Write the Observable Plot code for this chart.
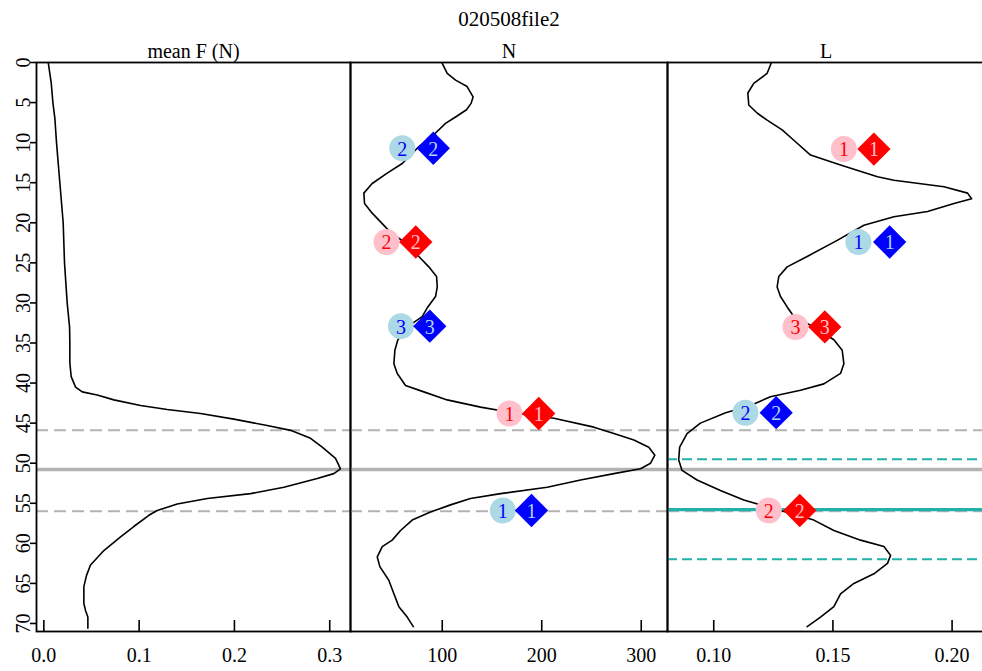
<!DOCTYPE html>
<html>
<head>
<meta charset="utf-8">
<script src="https://cdn.jsdelivr.net/npm/d3@7"></script>
<script src="https://cdn.jsdelivr.net/npm/@observablehq/plot@0.6"></script>
<style>
  body { margin: 0; background: #fff; overflow: hidden; }
  #wrap { position: relative; width: 982px; height: 671px; font-family: "Liberation Serif", "Times New Roman", serif; }
  #title { position: absolute; left: 36px; width: 946px; top: 7px; text-align: center; font-size: 21px; line-height: 24px; z-index: 10; color: #000; }
  .panel { position: absolute; top: 0; }
  .panel text { font-family: "Liberation Serif", "Times New Roman", serif !important; }
</style>
</head>
<body>
<div id="wrap"><div id="title">020508file2</div></div>
<script>
// ---------- data ----------
const chartTitle = "020508file2";
const panelTitles = ["mean F (N)", "N", "L"];
const depthTicks = [0, 5, 10, 15, 20, 25, 30, 35, 40, 45, 50, 55, 60, 65, 70];
const fTicks = [0.0, 0.1, 0.2, 0.3];
const nTicks = [100, 200, 300];
const lTicks = [0.10, 0.15, 0.20];

// mean F (N) profile
const fDepth = [0, 2.5, 5, 7, 10, 15, 20, 25, 30, 33, 35, 37.5, 39.2, 40.5, 41.1, 41.5, 42.1, 42.8, 43.3, 43.8, 44.5, 45.3, 45.9, 46.9, 48.0, 49.4, 50.7, 51.3, 51.9, 53.0, 53.8, 54.4, 55.1, 55.9, 56.5, 57.9, 59.2, 60.9, 62.7, 64.0, 65.4, 67.5, 68.4, 69.2, 70.6];
const fValue = [0.0046, 0.0077, 0.0095, 0.0116, 0.0133, 0.0168, 0.0203, 0.0217, 0.0245, 0.0270, 0.0273, 0.0273, 0.0287, 0.0333, 0.0403, 0.0560, 0.0735, 0.1015, 0.1295, 0.1644, 0.1994, 0.2344, 0.2589, 0.2799, 0.2921, 0.3061, 0.3113, 0.3043, 0.2869, 0.2519, 0.2169, 0.1715, 0.1400, 0.1190, 0.1102, 0.0944, 0.0805, 0.0630, 0.0490, 0.0448, 0.0420, 0.0420, 0.0438, 0.0462, 0.0462];

// N profile
const nDepth = [0.1, 1.35, 2.2, 3.0, 4.3, 5.1, 5.9, 6.8, 7.6, 8.8, 10.5, 12.6, 13.8, 15.1, 16.3, 17.6, 18.8, 20.1, 21.1, 22.4, 24.2, 25.5, 26.7, 28.0, 29.2, 30.5, 31.7, 32.9, 34.6, 35.9, 37.6, 38.8, 40.3, 41.1, 42.1, 43.0, 43.8, 44.4, 45.5, 46.3, 47.1, 48.0, 49.0, 50.0, 50.7, 51.3, 52.1, 53.0, 53.8, 54.4, 55.2, 56.1, 57.1, 58.4, 59.6, 60.4, 61.7, 62.9, 64.6, 66.3, 67.9, 69.2, 70.4];
const nValue = [100, 105, 113.4, 125, 131, 129, 124.4, 113.4, 103.3, 93.3, 76.5, 59.8, 44.7, 29.6, 21.2, 21.9, 29.6, 39.7, 47.3, 61.5, 76.5, 86.5, 94.3, 95, 93.3, 85.5, 79.9, 66, 55.4, 52.4, 51.4, 54.8, 63.1, 81.5, 105, 138.5, 175, 212.2, 252.4, 272.5, 292.6, 307.6, 313.7, 309.4, 299.3, 272.5, 239, 205.5, 158.6, 128.4, 108.3, 88.2, 69.8, 58.1, 49.7, 39.7, 34.7, 37.3, 46.3, 51.4, 56.4, 64.8, 70.9];

// L profile
const lDepth = [0.1, 1.35, 2.6, 3.8, 5.3, 6.3, 7.2, 8.4, 9.7, 11.55, 12.8, 14.25, 14.7, 15.5, 16.3, 17.0, 17.6, 18.6, 19.25, 20.3, 22.2, 24.2, 25.5, 26.7, 28.0, 29.2, 30.5, 31.7, 33.0, 34.6, 35.9, 37.6, 38.8, 40.1, 40.9, 41.7, 42.8, 43.7, 45.0, 46.3, 48.0, 49.6, 50.9, 52.1, 53.4, 54.6, 55.9, 57.1, 58.4, 59.6, 60.4, 61.5, 62.5, 63.8, 65.0, 66.3, 67.9, 69.2, 70.4];
const lValue = [0.1241, 0.1224, 0.1168, 0.1143, 0.1147, 0.1182, 0.1224, 0.1287, 0.1336, 0.1406, 0.1532, 0.1687, 0.1756, 0.1966, 0.2065, 0.2082, 0.2008, 0.1897, 0.1756, 0.1630, 0.1518, 0.1392, 0.1308, 0.1273, 0.1266, 0.1280, 0.1308, 0.1336, 0.1420, 0.1504, 0.1539, 0.1546, 0.1532, 0.1462, 0.1364, 0.1238, 0.1154, 0.1050, 0.0944, 0.0888, 0.0857, 0.0853, 0.0867, 0.0930, 0.1028, 0.1126, 0.1280, 0.1420, 0.1504, 0.1616, 0.1714, 0.1742, 0.1729, 0.1672, 0.1588, 0.1532, 0.1504, 0.1448, 0.1392];

// reference depths
const grayDashed = [45.9, 56.0];
const graySolid = [50.8];
const tealDashed = [49.5, 62.0];
const tealSolid = [55.8];

// markers in N panel
const nMarkDepth = [10.7, 22.4, 32.9, 43.8, 55.9];
const nMarkLabel = ["2", "2", "3", "1", "1"];
const nMarkGroup = ["blue", "red", "blue", "red", "blue"];
const nCircleX = [59.8, 44.0, 58.5, 167.6, 160.9];
const nDiamondX = [91.0, 73.4, 87.5, 197.0, 189.7];

// markers in L panel
const lMarkDepth = [10.8, 22.4, 33.0, 43.7, 55.9];
const lMarkLabel = ["1", "1", "3", "2", "2"];
const lMarkGroup = ["red", "blue", "red", "blue", "red"];
const lCircleX = [0.1546, 0.1607, 0.1343, 0.1133, 0.1231];
const lDiamondX = [0.1672, 0.1738, 0.1466, 0.1262, 0.1361];

// ---------- build ----------
const light = {blue: "lightblue", red: "pink"};
const dark = {blue: "blue", red: "red"};
const H = 671, MT = 62, MB = 40;
const FONT = "'Liberation Serif', 'Times New Roman', serif";

const profile = (ds, vs) => ds.map((d, i) => ({depth: d, v: vs[i]}));
const markers = (ds, labels, groups, cx, dx) => ds.map((d, i) => ({depth: d, label: labels[i], grp: groups[i], cx: cx[i], dx: dx[i]}));

function panel({left, width, marginLeft, xDomain, xTicks, fmt, title, line, marks, teal, yAxis}) {
  const innerH = H - MT - MB;
  const innerW = width - marginLeft;
  const m = [];
  m.push(Plot.ruleY(grayDashed, {stroke: "#b3b3b3", strokeWidth: 2, strokeDasharray: "12,6"}));
  m.push(Plot.ruleY(graySolid, {stroke: "#b3b3b3", strokeWidth: 3.5}));
  if (teal) {
    m.push(Plot.ruleY(tealDashed, {stroke: "#20b2aa", strokeWidth: 2, strokeDasharray: "10,5"}));
    m.push(Plot.ruleY(tealSolid, {stroke: "#20b2aa", strokeWidth: 3.2}));
  }
  m.push(Plot.line(line, {x: "v", y: "depth", stroke: "black", strokeWidth: 1.6}));
  if (marks) {
    m.push(Plot.dot(marks, {x: "cx", y: "depth", r: 13, fill: d => light[d.grp], stroke: null}));
    m.push(Plot.dot(marks, {x: "dx", y: "depth", r: 15, symbol: "diamond2", fill: d => dark[d.grp], stroke: null}));
    m.push(Plot.text(marks, {x: "cx", y: "depth", text: "label", fill: d => dark[d.grp], fontSize: 20, fontFamily: FONT, dy: 1}));
    m.push(Plot.text(marks, {x: "dx", y: "depth", text: "label", fill: d => light[d.grp], fontSize: 20, fontFamily: FONT, dy: 1}));
  }
  m.push(Plot.frame({stroke: "black", strokeWidth: 1.8}));
  // inward x ticks
  m.push(Plot.tickX(xTicks, {x: d => d, stroke: "black", strokeWidth: 1.6, insetTop: innerH - 11}));
  // x tick labels
  m.push(Plot.text(xTicks, {x: d => d, text: fmt, frameAnchor: "bottom", lineAnchor: "top", dy: 16, fontSize: 20, fontFamily: FONT, fill: "black"}));
  if (yAxis) {
    // outward y ticks
    m.push(Plot.tickY(depthTicks, {y: d => d, stroke: "black", strokeWidth: 1.6, insetLeft: -6, insetRight: innerW}));
    // rotated y tick labels
    m.push(Plot.text(depthTicks, {y: d => d, text: d => String(d), frameAnchor: "left", rotate: -90, textAnchor: "middle", lineAnchor: "bottom", dx: -7, fontSize: 20, fontFamily: FONT, fill: "black"}));
  }
  m.push(Plot.text([title], {text: d => d, frameAnchor: "top", lineAnchor: "bottom", dy: -5, fontSize: 20, fontFamily: FONT, fill: "black"}));
  const p = Plot.plot({
    width, height: H,
    marginTop: MT, marginBottom: MB, marginLeft, marginRight: 0,
    x: {domain: xDomain, axis: null, label: null},
    y: {domain: [0, 71], reverse: true, axis: null, label: null},
    color: {type: "identity"},
    style: {fontFamily: FONT, fontSize: "20px", color: "black", background: "transparent", overflow: "visible"},
    marks: m
  });
  p.classList.add("panel");
  p.style.left = left + "px";
  return p;
}

const wrap = document.getElementById("wrap");
document.getElementById("title").textContent = chartTitle;

wrap.appendChild(panel({
  left: 0, width: 350, marginLeft: 36, xDomain: [-0.0077, 0.3218], xTicks: fTicks, fmt: d3.format(".1f"),
  title: panelTitles[0], line: profile(fDepth, fValue), yAxis: true
}));
wrap.appendChild(panel({
  left: 350, width: 317, marginLeft: 0, xDomain: [7.8, 326.4], xTicks: nTicks, fmt: d3.format("d"),
  title: panelTitles[1], line: profile(nDepth, nValue),
  marks: markers(nMarkDepth, nMarkLabel, nMarkGroup, nCircleX, nDiamondX)
}));
wrap.appendChild(panel({
  left: 667, width: 317, marginLeft: 0, xDomain: [0.0806, 0.2136], xTicks: lTicks, fmt: d3.format(".2f"),
  title: panelTitles[2], line: profile(lDepth, lValue), teal: true,
  marks: markers(lMarkDepth, lMarkLabel, lMarkGroup, lCircleX, lDiamondX)
}));
</script>
</body>
</html>
